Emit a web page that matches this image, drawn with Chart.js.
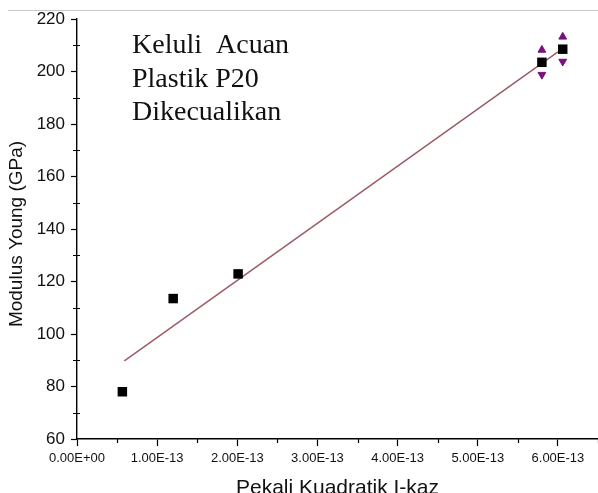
<!DOCTYPE html>
<html>
<head>
<meta charset="utf-8">
<script src="https://cdn.jsdelivr.net/npm/chart.js@4.4.1/dist/chart.umd.min.js"></script>
<style>
  html, body { margin: 0; padding: 0; background: #fff; }
  #wrap { position: relative; width: 598px; height: 493px; }
</style>
</head>
<body>
<div id="wrap"><canvas id="chart" width="598" height="493"></canvas></div>
<script>
// measured points: Pekali Kuadratik I-kaz vs Modulus Young
const pointX = [0.566e-13, 1.20e-13, 2.01e-13, 5.80e-13, 6.06e-13];
const pointY = [78.0, 113.5, 122.9, 203.5, 208.5];

// error arrows, only on the last two points
const errX = [5.80e-13, 6.06e-13];
const errY = [203.5, 208.5];
const errSize = [4.7, 4.7];

// linear fit, end points
const fitX = [0.591e-13, 6.0e-13];
const fitY = [89.8, 207.5];

const xTicks = [0, 1e-13, 2e-13, 3e-13, 4e-13, 5e-13, 6e-13];
const xMinor = [0.5e-13, 1.5e-13, 2.5e-13, 3.5e-13, 4.5e-13, 5.5e-13, 6.5e-13];
const yTicks = [60, 80, 100, 120, 140, 160, 180, 200, 220];
const yMinor = [70, 90, 110, 130, 150, 170, 190, 210];

const notes = ['Keluli  Acuan', 'Plastik P20', 'Dikecualikan'];
const xTitle = 'Pekali Kuadratik I-kaz';
const yTitle = 'Modulus Young (GPa)';

const SANS = '"Liberation Sans", Arial, sans-serif';
const SERIF = '"Liberation Serif", "Times New Roman", serif';
const PURPLE = '#7a1080';

function sci(v) {
  if (v === 0) return '0.00E+00';
  const parts = v.toExponential(2).split('e');
  const n = parseInt(parts[1], 10);
  return parts[0] + 'E' + (n < 0 ? '-' : '+') + String(Math.abs(n)).padStart(2, '0');
}

function pairs(xs, ys) {
  return xs.map((x, i) => ({ x: x, y: ys[i] }));
}

// minor ticks, axis titles, the text block and the thin rule at the top
const decor = {
  id: 'decor',
  afterDraw(chart) {
    const ctx = chart.ctx;
    const xs = chart.scales.x;
    const ys = chart.scales.y;
    const area = chart.chartArea;
    ctx.save();

    ctx.strokeStyle = '#c8c8c8';
    ctx.lineWidth = 1;
    ctx.beginPath();
    ctx.moveTo(8, 10.5);
    ctx.lineTo(598, 10.5);
    ctx.stroke();

    ctx.strokeStyle = '#000';
    ctx.lineWidth = 1.2;
    ctx.beginPath();
    yMinor.forEach(v => {
      const py = Math.round(ys.getPixelForValue(v)) + 0.5;
      ctx.moveTo(area.left - 4, py);
      ctx.lineTo(area.left + 3, py);
    });
    xMinor.forEach(v => {
      const px = Math.round(xs.getPixelForValue(v)) + 0.5;
      ctx.moveTo(px, area.bottom);
      ctx.lineTo(px, area.bottom + 4);
    });
    ctx.stroke();

    ctx.fillStyle = '#111';
    ctx.font = '19px ' + SANS;
    ctx.textAlign = 'center';
    ctx.textBaseline = 'middle';
    ctx.save();
    ctx.translate(17, 234);
    ctx.rotate(-Math.PI / 2);
    ctx.fillText(yTitle, 0, 0);
    ctx.restore();

    ctx.font = '21px ' + SANS;
    ctx.textBaseline = 'alphabetic';
    ctx.fillText(xTitle, (area.left + area.right) / 2, 494);

    ctx.font = '28px ' + SERIF;
    ctx.textAlign = 'left';
    notes.forEach((t, i) => {
      ctx.fillText(t, 132, 53 + i * 33.5);
    });
    ctx.restore();
  }
};

new Chart(document.getElementById('chart'), {
  type: 'scatter',
  data: {
    datasets: [
      {
        data: pairs(pointX, pointY),
        pointStyle: 'rect',
        pointRadius: 6.7,
        backgroundColor: '#000',
        borderColor: '#000',
        borderWidth: 0,
        order: 0
      },
      {
        data: pairs(errX, errY.map((y, i) => y + errSize[i])),
        pointStyle: 'triangle',
        pointRadius: 4.5,
        backgroundColor: PURPLE,
        borderColor: PURPLE,
        borderWidth: 1,
        order: 1
      },
      {
        data: pairs(errX, errY.map((y, i) => y - errSize[i])),
        pointStyle: 'triangle',
        rotation: 180,
        pointRadius: 4.5,
        backgroundColor: PURPLE,
        borderColor: PURPLE,
        borderWidth: 1,
        order: 2
      },
      {
        data: pairs(fitX, fitY),
        showLine: true,
        pointRadius: 0,
        borderColor: '#9b5c66',
        borderWidth: 1.5,
        order: 3
      }
    ]
  },
  options: {
    responsive: false,
    animation: false,
    layout: { autoPadding: false, padding: { top: 19, right: 0, left: 0, bottom: 0 } },
    plugins: {
      legend: { display: false },
      tooltip: { enabled: false }
    },
    scales: {
      x: {
        type: 'linear',
        min: 0,
        max: 6.5e-13,
        afterBuildTicks: s => { s.ticks = xTicks.map(v => ({ value: v })); },
        afterFit: s => { s.height = 54; s.paddingLeft = 0; s.paddingRight = 0; },
        ticks: {
          callback: v => sci(v),
          font: { family: SANS, size: 13 },
          color: '#111',
          padding: 5,
          maxRotation: 0,
          autoSkip: false
        },
        grid: { drawOnChartArea: false, tickLength: 7, tickColor: '#000', tickWidth: 1.2 },
        border: { color: '#000', width: 1.4 }
      },
      y: {
        min: 60,
        max: 220,
        afterBuildTicks: s => { s.ticks = yTicks.map(v => ({ value: v })); },
        afterFit: s => { s.width = 77; },
        ticks: {
          font: { family: SANS, size: 17 },
          color: '#111',
          padding: 6
        },
        grid: { drawOnChartArea: false, tickLength: 6, tickColor: '#000', tickWidth: 1.2 },
        border: { color: '#000', width: 1.4 }
      }
    }
  },
  plugins: [decor]
});
</script>
</body>
</html>
